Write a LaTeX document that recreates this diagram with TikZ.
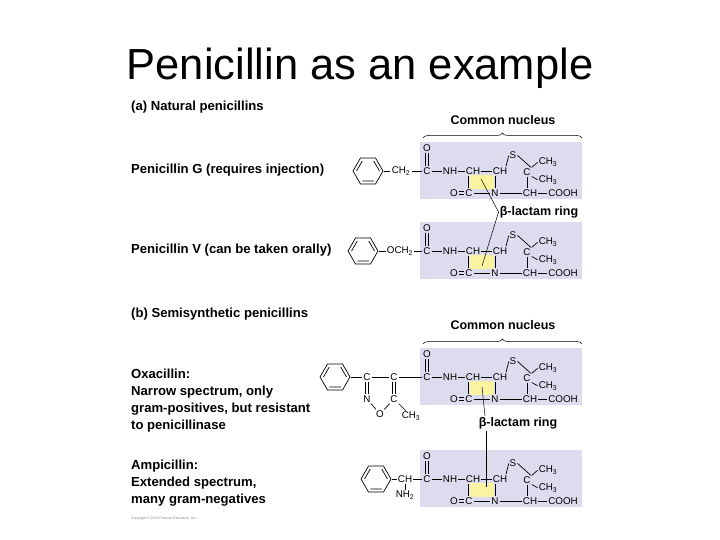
\documentclass[tikz,border=0pt]{standalone}
\usepackage{fontspec}
\setmainfont{Liberation Sans}
\usetikzlibrary{decorations.pathreplacing}
\definecolor{lav}{RGB}{220,220,238}
\definecolor{yel}{RGB}{250,244,160}
\tikzset{
  atm/.style={inner sep=0.6pt,font=\fontsize{9.8}{10}\selectfont},
  bond/.style={line width=0.7pt,shorten <=0.5pt,shorten >=0.5pt},
  lbl/.style={anchor=west,inner sep=0pt,font=\bfseries\fontsize{13.1}{15}\selectfont,align=left},
  ring/.style={line width=0.7pt}
}
\newcommand{\vdb}[2]{%
  \draw[bond] ([xshift=-1.2pt]#1.south) -- ([xshift=-1.2pt]#2.north);
  \draw[bond] ([xshift=1.2pt]#1.south) -- ([xshift=1.2pt]#2.north);}
\newcommand{\nucleus}[3]{%
 \begin{scope}[shift={(#2,#3)}]
  \fill[lav] (-7,-29) rectangle (155,28);
  \fill[yel] (42,4) rectangle (67,18);
  \node[atm] (#1C) at (0,0) {C};
  \node[atm] (#1O) at (0,-23) {O};
  \node[atm] (#1NH) at (23,0) {NH};
  \node[atm] (#1CHa) at (46,0) {CH};
  \node[atm] (#1CHb) at (73,0) {CH};
  \node[atm] (#1S) at (86,-16) {S};
  \node[atm] (#1Cq) at (100,1) {C};
  \node[atm] (#1Ma) at (121,-9) {CH\textsubscript{3}};
  \node[atm] (#1Mb) at (121,9) {CH\textsubscript{3}};
  \node[atm] (#1Ob) at (27,22) {O};
  \node[atm] (#1Cb) at (42,22) {C};
  \node[atm] (#1N) at (68,22) {N};
  \node[atm] (#1CHc) at (103,22) {CH};
  \node[atm] (#1COOH) at (136,22) {COOH};
  \vdb{#1O}{#1C}
  \draw[bond] (#1C) -- (#1NH);
  \draw[bond] (#1NH) -- (#1CHa);
  \draw[bond] (#1CHa) -- (#1CHb);
  \draw[bond] (#1CHa.south west) ++(3,0) coordinate (#1x1) -- (#1Cb.north -| #1x1);
  \draw[bond] (#1CHb.south west) ++(3,0) coordinate (#1x2) -- (#1N.north -| #1x2);
  \draw[bond] ([xshift=-2pt]#1CHb.north east) -- (#1S.west);
  \draw[bond] (#1S.east) -- (#1Cq.north east);
  \draw[bond] (#1Cq.north east) -- (#1Ma.west);
  \draw[bond] (#1Cq.south east) -- (#1Mb.west);
  \draw[bond] (#1Cq) -- (#1CHc.north -| #1Cq);
  \draw[bond] ([yshift=-1.2pt]#1Ob.east) -- ([yshift=-1.2pt]#1Cb.west);
  \draw[bond] ([yshift=1.2pt]#1Ob.east) -- ([yshift=1.2pt]#1Cb.west);
  \draw[bond] (#1Cb) -- (#1N);
  \draw[bond] (#1N) -- (#1CHc);
  \draw[bond] (#1CHc) -- (#1COOH);
 \end{scope}}
\newcommand{\benz}[3]{%
 \begin{scope}[shift={(#2,#3)}]
  \draw[ring] (0:15) -- (60:15) -- (120:15) -- (180:15) -- (240:15) -- (300:15) -- cycle;
  \draw[ring] (60:11.5) -- (120:11.5) (180:11.5) -- (240:11.5) (300:11.5) -- (0:11.5);
  \coordinate (#1) at (0:15);
 \end{scope}}
\begin{document}
\begin{tikzpicture}[x=1pt,y=-1pt]
\useasboundingbox (0,0) rectangle (720,540);
\node[font=\fontsize{43.5}{48}\selectfont] (title) at (360,68) {Penicillin as an example};
% labels
\node[lbl] (la) at (131,107) {(a) Natural penicillins};
\node[lbl] (lg) at (131,170) {Penicillin G (requires injection)};
\node[lbl] (lv) at (131,250) {Penicillin V (can be taken orally)};
\node[lbl] (lb) at (131,314) {(b) Semisynthetic penicillins};
\node[lbl,font=\bfseries\fontsize{13.1}{17}\selectfont] (lo) at (131,401) {Oxacillin:\\Narrow spectrum, only\\gram-positives, but resistant\\to penicillinase};
\node[lbl,font=\bfseries\fontsize{13.1}{17}\selectfont] (lam) at (131,483) {Ampicillin:\\Extended spectrum,\\many gram-negatives};
\node[anchor=west,inner sep=0pt,font=\fontsize{3.5}{4}\selectfont,gray] (copy) at (131,519) {Copyright © 2010 Pearson Education, Inc.};
% braces
\draw[line width=0.5pt,decorate,decoration={brace,amplitude=5pt}] (423,138) -- (582,138);
\node[font=\bfseries\fontsize{12.5}{14}\selectfont] (cn1) at (503,120) {Common nucleus};
\draw[line width=0.5pt,decorate,decoration={brace,amplitude=5pt}] (423,344) -- (582,344);
\node[font=\bfseries\fontsize{12.5}{14}\selectfont] (cn2) at (503,325) {Common nucleus};
% nuclei
\nucleus{g}{427}{171}
\nucleus{v}{427}{251}
\nucleus{o}{427}{377}
\nucleus{a}{427}{479}
% penicillin G
\benz{bg}{368}{171}
\node[atm] (gch2) at (401,171) {CH\textsubscript{2}};
\draw[bond] (bg) -- (gch2); \draw[bond] (gch2) -- (gC);
% penicillin V
\benz{bv}{363}{251}
\node[atm] (voch2) at (400,251) {OCH\textsubscript{2}};
\draw[bond] (bv) -- (voch2); \draw[bond] (voch2) -- (vC);
% oxacillin
\benz{bo}{335}{377}
\node[atm] (oC1) at (367,377) {C};
\node[atm] (oC2) at (394,377) {C};
\node[atm] (oN) at (367,399) {N};
\node[atm] (oO) at (380,414) {O};
\node[atm] (oC3) at (394,399) {C};
\node[atm] (oMe) at (411,416) {CH\textsubscript{3}};
\draw[bond] (bo) -- (oC1); \draw[bond] (oC1) -- (oC2); \draw[bond] (oC2) -- (oC);
\vdb{oC1}{oN} \vdb{oC2}{oC3}
\draw[bond] (oN) -- (oO); \draw[bond] (oO) -- (oC3); \draw[bond] (oC3) -- (oMe);
% ampicillin
\benz{ba}{376}{479}
\node[atm] (aCH) at (405,479) {CH};
\node[atm] (aNH2) at (405,495) {NH\textsubscript{2}};
\draw[bond] (ba) -- (aCH); \draw[bond] (aCH) -- (aC); \draw[bond] (aCH) -- (aNH2);
% beta-lactam labels
\node[font=\bfseries\fontsize{12.5}{14}\selectfont,inner sep=1pt] (bl1) at (539,212) {β-lactam ring};
\coordinate (p1) at (481,179);
\coordinate (p2) at (482,266);
\draw[line width=0.5pt] (p1) -- (bl1.west) -- (p2);
\node[font=\bfseries\fontsize{12.5}{14}\selectfont,inner sep=1pt] (bl2) at (518,423) {β-lactam ring};
\coordinate (p3) at (482,387);
\coordinate (p4) at (486,487);
\coordinate (q2) at (485,416);
\coordinate (q3) at (486,431);
\draw[line width=0.5pt] (p3) -- (q2);
\draw[line width=0.5pt] (q3) -- (p4);
\end{tikzpicture}
\end{document}
